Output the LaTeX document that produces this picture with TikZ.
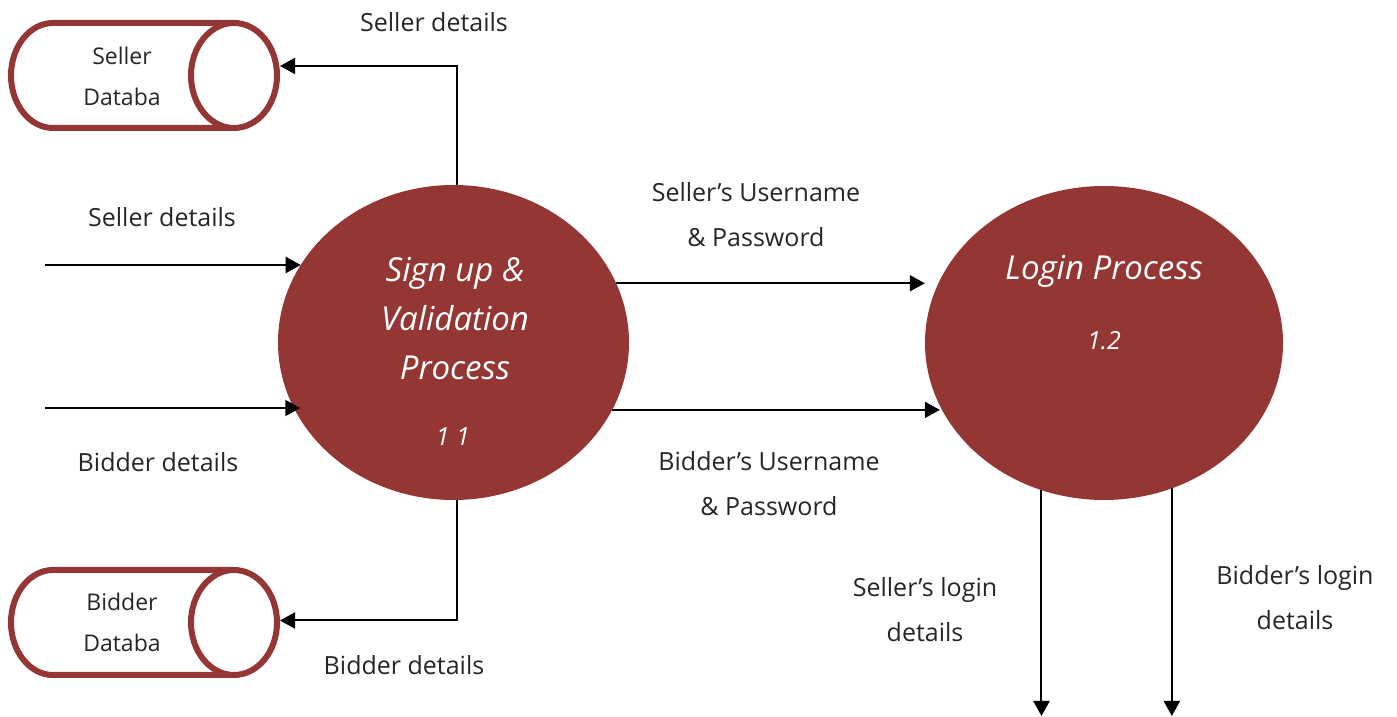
\documentclass[tikz,border=0pt]{standalone}
\usepackage{fontspec}
\setmainfont{Open Sans}
\usetikzlibrary{arrows.meta,shapes.geometric}
\definecolor{procred}{HTML}{943634}
\definecolor{txt}{HTML}{262626}
\begin{document}
\begin{tikzpicture}[x=1pt,y=1pt,
  proc/.style={ellipse,fill=procred,draw=none,inner sep=0pt},
  dbend/.style={ellipse,draw=procred,line width=6pt,fill=white,minimum width=86pt,minimum height=105pt,inner sep=0pt},
  dbbody/.style={draw=procred,line width=6pt},
  flow/.style={line width=2pt,-{Triangle[length=15pt,width=16pt]}},
  lbl/.style={font=\fontsize{25}{45}\selectfont,align=center,inner sep=0pt,text=txt},
  dbtxt/.style={font=\fontsize{23}{41}\selectfont,align=center,inner sep=0pt,text=txt},
  ptxt/.style={font=\itshape\fontsize{33}{49}\selectfont,text=white,align=center,inner sep=0pt},
  pnum/.style={font=\itshape\fontsize{25}{30}\selectfont,text=white,inner sep=0pt}]
\useasboundingbox (0,0) rectangle (1397,717);

% processes
\node[proc,minimum width=351pt,minimum height=315pt] (p1) at (453.5,374.5) {};
\node[proc,minimum width=358pt,minimum height=314pt] (p2) at (1104,374) {};
\node[ptxt] (p1t) at (455,398) {Sign up \&\\Validation\\Process};
\node[pnum] (p1n) at (453,280) {1 1};
\node[ptxt] (p2t) at (1104,446) {Login Process};
\node[pnum] (p2n) at (1104,376) {1.2};

% data stores
\draw[dbbody] (234,694) -- (53,694) arc[start angle=90,end angle=270,x radius=42,y radius=52.5] -- (234,589);
\node[dbend] (sdb) at (234,641.5) {};
\node[dbtxt] (sdbt) at (122,640.5) {Seller\\Databa};
\draw[dbbody] (234,147) -- (53,147) arc[start angle=90,end angle=270,x radius=42,y radius=52.5] -- (234,42);
\node[dbend] (bdb) at (234,94.5) {};
\node[dbtxt] (bdbt) at (122,94.5) {Bidder\\Databa};

% free ends
\coordinate (inS) at (45,452);
\coordinate (inB) at (45,309);
\coordinate (outS) at (1044,1);
\coordinate (outB) at (1173,1);

% flows
\draw[flow] ([xshift=3.5pt]p1.north) |- ([yshift=9.5pt]sdb.east);
\draw[flow] ([xshift=3.5pt]p1.south) |- ([yshift=2pt]bdb.east);
\draw[flow] (inS) -- (inS -| p1.153.1);
\draw[flow] (inB) -- ([xshift=7pt]inB -| p1.202.3);
\draw[flow] (p1.20.8) -- (p1.20.8 -| p2.west);
\draw[flow] (p1.337.7) -- (p1.337.7 -| p2.201.75);
\draw[flow] (p2.247.9) -- (p2.247.9 |- outS);
\draw[flow] (p2.295.5) -- (p2.295.5 |- outB);

% labels
\node[lbl] (l1) at (434,695) {Seller details};
\node[lbl] (l2) at (162,500) {Seller details};
\node[lbl] (l3) at (158,255) {Bidder details};
\node[lbl] (l4) at (404,52) {Bidder details};
\node[lbl] (l5) at (756,502.5) {Seller’s Username\\\& Password};
\node[lbl] (l6) at (769,233.5) {Bidder’s Username\\\& Password};
\node[lbl] (l7) at (925,107.5) {Seller’s login\\details};
\node[lbl] (l8) at (1295,119) {Bidder’s login\\details};
\end{tikzpicture}
\end{document}
